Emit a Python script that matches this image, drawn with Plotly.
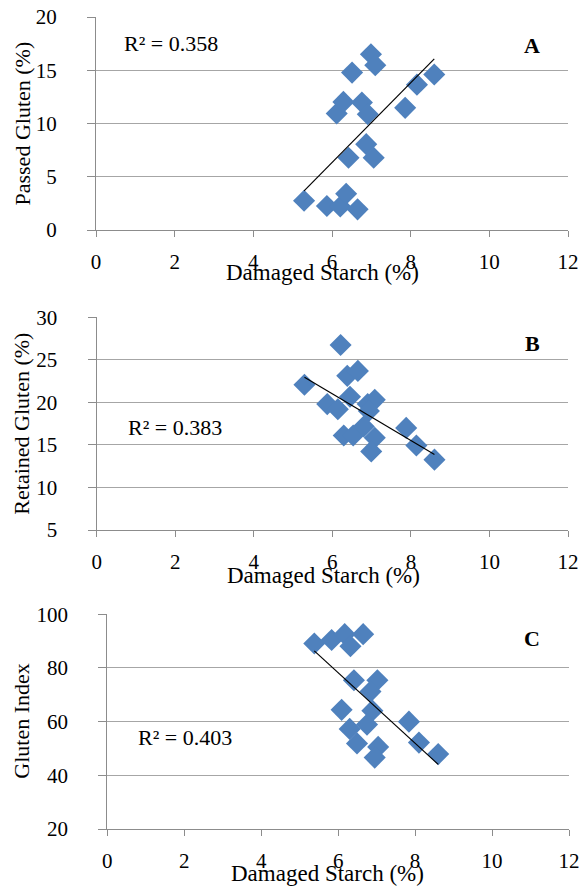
import numpy as np
import plotly.graph_objects as go

# ---- data ----
starch_a = [5.29, 5.87, 6.21, 6.36, 6.65, 6.42, 6.87, 7.06, 6.12, 6.29, 6.76, 6.91, 7.86, 8.16, 8.60, 6.51, 6.99, 7.10]
passed = [2.75, 2.25, 2.20, 3.40, 1.94, 6.78, 8.06, 6.78, 10.94, 12.03, 11.97, 10.87, 11.47, 13.65, 14.60, 14.78, 16.50, 15.47]

starch_b = [5.29, 6.21, 6.38, 6.65, 5.87, 6.14, 6.45, 6.90, 7.08, 6.93, 6.29, 6.53, 6.80, 7.08, 6.99, 7.88, 8.14, 8.60]
retained = [22.07, 26.74, 23.12, 23.70, 19.80, 19.20, 20.67, 19.80, 20.30, 19.00, 16.10, 16.10, 17.16, 15.84, 14.24, 17.00, 14.94, 13.27]

starch_c = [5.38, 5.83, 6.17, 6.32, 6.65, 6.41, 7.02, 6.84, 6.09, 6.89, 6.75, 7.84, 6.30, 6.49, 7.04, 6.95, 8.10, 8.60]
gindex = [89.1, 90.4, 92.6, 88.1, 92.6, 75.4, 75.4, 71.2, 64.4, 64.1, 58.9, 60.0, 57.3, 51.9, 50.6, 46.6, 52.2, 47.9]

r2_labels = ["R² = 0.358", "R² = 0.383", "R² = 0.403"]
panel_letters = ["A", "B", "C"]
y_titles = ["Passed Gluten (%)", "Retained Gluten (%)", "Gluten Index"]
x_title = "Damaged Starch (%)"
x_ticks = [0, 2, 4, 6, 8, 10, 12]
y_ranges = [(0, 20, 5), (5, 30, 5), (20, 100, 20)]

W, H = 581, 886
FONT = "Liberation Serif, Times New Roman, Times, serif"
BLUE = "#4F81BD"
GRID = "#a6a6a6"
AXIS = "#8c8c8c"

# plot areas in pixels (left, right, top, bottom)
areas = [(96, 568, 17, 230), (96.7, 568, 317.3, 530), (107.3, 569, 614.3, 829)]

fig = go.Figure()
sets = [(starch_a, passed), (starch_b, retained), (starch_c, gindex)]
for i, (xs, ys) in enumerate(sets):
    sfx = "" if i == 0 else str(i + 1)
    fig.add_trace(go.Scatter(x=xs, y=ys, mode="markers", xaxis="x" + sfx, yaxis="y" + sfx,
                             marker=dict(symbol="diamond", size=17, color=BLUE,
                                         line=dict(width=0)),
                             showlegend=False, hoverinfo="skip"))
    k, b = np.polyfit(xs, ys, 1)
    xl = np.array([min(xs), max(xs)])
    fig.add_trace(go.Scatter(x=xl, y=k * xl + b, mode="lines", xaxis="x" + sfx, yaxis="y" + sfx,
                             line=dict(color="black", width=1.2), showlegend=False, hoverinfo="skip"))

layout = dict(width=W, height=H, margin=dict(l=0, r=0, t=0, b=0, autoexpand=False),
              paper_bgcolor="white", plot_bgcolor="white",
              font=dict(family=FONT, size=21, color="black"))
annotations = []
for i, (l, r, t, bt) in enumerate(areas):
    sfx = "" if i == 0 else str(i + 1)
    y0, y1, dy = y_ranges[i]
    layout["xaxis" + sfx] = dict(domain=[l / W, r / W], anchor="y" + sfx, range=[0, 12],
                                 tickvals=x_ticks, showgrid=False, zeroline=False,
                                 showline=True, linecolor=AXIS, linewidth=1.3,
                                 ticks="outside", ticklen=6, tickcolor=AXIS, tickwidth=1.3,
                                 tickfont=dict(family=FONT, size=21), ticklabelstandoff=7,
                                 automargin=False, fixedrange=True)
    layout["yaxis" + sfx] = dict(domain=[1 - bt / H, 1 - t / H], anchor="x" + sfx,
                                 range=[y0, y1], tickvals=list(range(y0, y1 + 1, dy)),
                                 showgrid=True, gridcolor=GRID, gridwidth=1.3, zeroline=False,
                                 showline=True, linecolor=AXIS, linewidth=1.3,
                                 ticks="outside", ticklen=8, tickcolor=AXIS, tickwidth=1.3,
                                 tickfont=dict(family=FONT, size=21), ticklabelstandoff=26,
                                 automargin=False, fixedrange=True)
    # y title
    annotations.append(dict(text=y_titles[i], xref="paper", yref="paper",
                            x=22 / W, y=1 - ((t + bt) / 2) / H, textangle=-90,
                            showarrow=False, font=dict(family=FONT, size=22),
                            xanchor="center", yanchor="middle"))
    # x title
    xt_y = [272, 575, 873][i]
    xt_x = [322, 323, 327][i]
    annotations.append(dict(text=x_title, xref="paper", yref="paper",
                            x=xt_x / W, y=1 - xt_y / H, showarrow=False,
                            font=dict(family=FONT, size=23),
                            xanchor="center", yanchor="middle"))
    # R^2 label
    rx = [122, 126, 136][i]
    ry = [43, 428, 737][i]
    annotations.append(dict(text=r2_labels[i], xref="paper", yref="paper",
                            x=rx / W, y=1 - ry / H, showarrow=False,
                            font=dict(family=FONT, size=22),
                            xanchor="left", yanchor="middle"))
    # panel letter
    ly = [45, 343, 638][i]
    annotations.append(dict(text="<b>" + panel_letters[i] + "</b>", xref="paper", yref="paper",
                            x=532 / W, y=1 - ly / H, showarrow=False,
                            font=dict(family=FONT, size=22),
                            xanchor="center", yanchor="middle"))
layout["annotations"] = annotations
fig.update_layout(**layout)
fig.write_html("out.html", config={"displayModeBar": False},
               post_script="document.body.style.margin='0';")
